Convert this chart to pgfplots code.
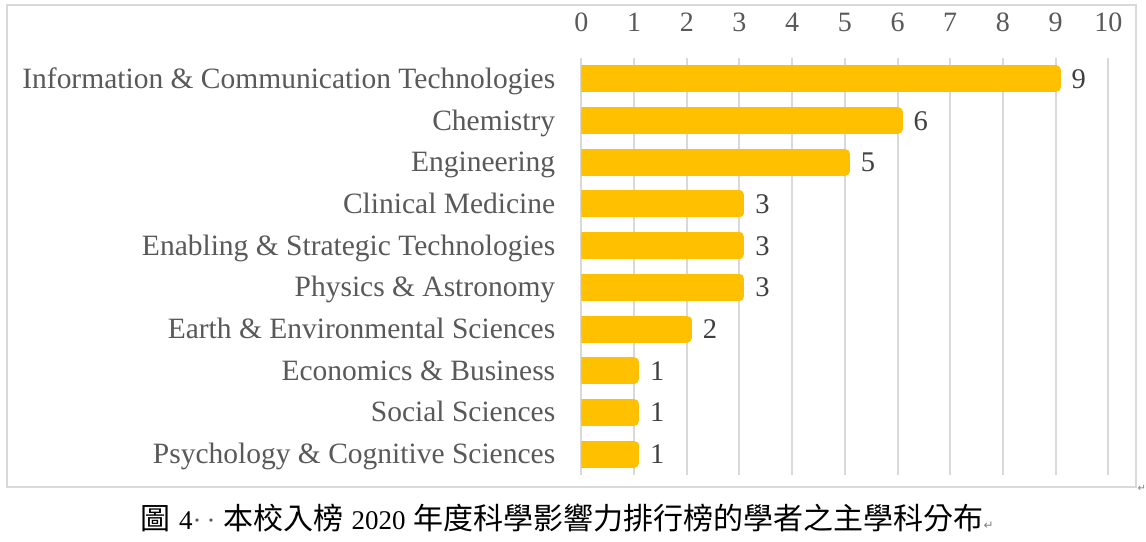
\documentclass[border=0pt]{standalone}
\usepackage{fontspec}
\setmainfont{Liberation Serif}
\newfontfamily\cjk{Noto Sans CJK TC}
\newfontfamily\dejavu{DejaVu Sans}
\usepackage{pgfplots}
\pgfplotsset{compat=1.18}
\definecolor{barc}{HTML}{FFC000}
\definecolor{gridc}{HTML}{D9D9D9}
\definecolor{txt}{HTML}{595959}
\pgfplotstableread{
y v
1 1
2 1
3 1
4 2
5 3
6 3
7 3
8 5
9 6
10 9
}\datatable
\begin{document}
\begin{tikzpicture}
\fill[white] (0pt,0pt) rectangle (1146pt,-542pt);
\draw[gridc, line width=2.5pt] (7pt,-5pt) rectangle (1136pt,-487pt);
\begin{axis}[
  at={(581.5pt,-475pt)}, anchor=south west,
  scale only axis, width=527pt, height=417pt,
  xbar, xmin=0, xmax=10, ymin=0.5, ymax=10.5,
  bar width=17pt,
  xtick={0,1,...,10}, ytick={1,2,...,10},
  yticklabels={Psychology \& Cognitive Sciences, Social Sciences, Economics \& Business, Earth \& Environmental Sciences, Physics \& Astronomy, Enabling \& Strategic Technologies, Clinical Medicine, Engineering, Chemistry, Information \& Communication Technologies},
  xticklabel pos=upper,
  axis line style={draw=none},
  major tick length=0pt,
  xmajorgrids, grid style={gridc, line width=2pt},
  xticklabel style={font=\fontsize{28}{30}\selectfont, text=txt, anchor=center, inner sep=0pt, yshift=36pt},
  yticklabel style={font=\fontsize{29.5}{30}\selectfont, text=txt, anchor=base east, inner sep=0pt, xshift=-26pt, yshift=-9.5pt},
  /pgf/number format/assume math mode=true,
  nodes near coords,
  nodes near coords style={font=\fontsize{28.5}{30}\selectfont, text=black!75, anchor=base west, inner sep=0pt, xshift=11pt, yshift=-9.5pt},
]
\addplot[fill=barc, draw=barc, line width=10pt, line join=round] table[x=v, y=y] {\datatable};
\end{axis}
\node[anchor=center, inner sep=0pt] at (567pt,-518pt)
 {\fontsize{27}{30}\selectfont{\cjk\fontsize{30}{30}\selectfont 圖}\hspace{9pt}4{\color{txt}·}\hspace{5pt}{\color{txt}·}\hspace{8pt}{\cjk\fontsize{30}{30}\selectfont 本校入榜}\hspace{8pt}2020\hspace{8pt}{\cjk\fontsize{30}{30}\selectfont 年度科學影響力排行榜的學者之主學科分布}{\dejavu\fontsize{12}{12}\selectfont\color{gray}↵}};
\node[inner sep=0pt, text=gray] at (1142pt,-488pt) {\dejavu\fontsize{10}{10}\selectfont ↵};
\path[use as bounding box] (0pt,0pt) rectangle (1146pt,-542pt);
\end{tikzpicture}
\end{document}
